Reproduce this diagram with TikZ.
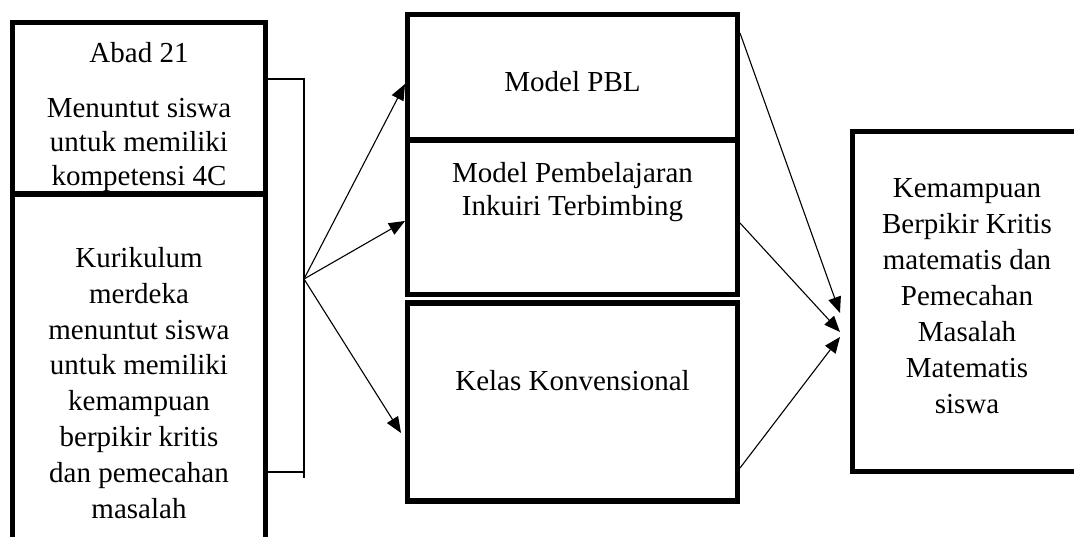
\documentclass[tikz,border=0pt]{standalone}
\usepackage{fontspec}
\setmainfont{Liberation Serif}
\usetikzlibrary{arrows.meta}
\begin{document}
\begin{tikzpicture}[x=1pt,y=-1pt,
  box/.style={draw=black,line width=5.5pt,inner sep=0pt,fill=none},
  txt/.style={anchor=north,inner sep=0pt,align=center,font=\fontsize{29}{35}\selectfont},
  conn/.style={draw=black,line width=1.1pt},
  arr/.style={conn,-{Triangle[length=16pt,width=13pt]}}]
\useasboundingbox (0,0) rectangle (1074,536);
\clip (0,0) rectangle (1074,536);
\fill[white] (0,0) rectangle (1074,536);
% boxes
\node[box,minimum width=253pt,minimum height=171.5pt] (ltop) at (139,108.25) {};
\node[box,minimum width=253pt,minimum height=366pt] (lbot) at (139,377) {};
\node[box,minimum width=330pt,minimum height=125.5pt] (pbl) at (572.5,77.25) {};
\node[box,minimum width=330pt,minimum height=154.5pt] (ink) at (572.5,217.25) {};
\node[box,minimum width=330pt,minimum height=198pt] (kel) at (572.5,402) {};
\node[box,minimum width=237.5pt,minimum height=340pt] (kem) at (971.25,301.5) {};
% texts
\node[txt] (tabad) at (139,42) {\rule{0pt}{20pt}Abad 21};
\node[txt,font=\fontsize{29}{34}\selectfont] (tmen) at (139,97) {\rule{0pt}{20pt}Menuntut siswa\\untuk memiliki\\kompetensi 4C};
\node[txt,font=\fontsize{29}{35.86}\selectfont] (tkur) at (139,247) {\rule{0pt}{20pt}Kurikulum\\merdeka\\menuntut siswa\\untuk memiliki\\kemampuan\\berpikir kritis\\dan pemecahan\\masalah};
\node[txt] (tpbl) at (572.5,71) {\rule{0pt}{20pt}Model PBL};
\node[txt,font=\fontsize{29}{33.3}\selectfont] (tink) at (572.5,162) {\rule{0pt}{20pt}Model Pembelajaran\\Inkuiri Terbimbing};
\node[txt] (tkel) at (572.5,370.5) {\rule{0pt}{20pt}Kelas Konvensional};
\node[txt,font=\fontsize{29}{36}\selectfont] (tkem) at (967,177) {\rule{0pt}{20pt}Kemampuan\\Berpikir Kritis\\matematis dan\\Pemecahan\\Masalah\\Matematis\\siswa};
% bracket
\coordinate (bt) at (304,79);
\coordinate (bm) at (304,472);
\coordinate (bb) at (304,478);
\draw[conn] (ltop.east |- bt) -- (bt) -- (bb);
\draw[conn] (lbot.east |- bm) -- (bm);
% arrows to middle
\coordinate (hub) at (304,279);
\coordinate (a1) at (405,84);
\coordinate (a2) at (405,221);
\coordinate (a3) at (401,433);
\draw[arr] (hub) -- (a1);
\draw[arr] (hub) -- (a2);
\draw[arr] (hub) -- (a3);
% arrows to right
\coordinate (s1) at (740,33);
\coordinate (s2) at (740,223);
\coordinate (s3) at (740,468);
\coordinate (e1) at (840,313);
\coordinate (e2) at (840,332);
\coordinate (e3) at (840,337);
\draw[arr] (s1) -- (e1);
\draw[arr] (s2) -- (e2);
\draw[arr] (s3) -- (e3);
\end{tikzpicture}
\end{document}
